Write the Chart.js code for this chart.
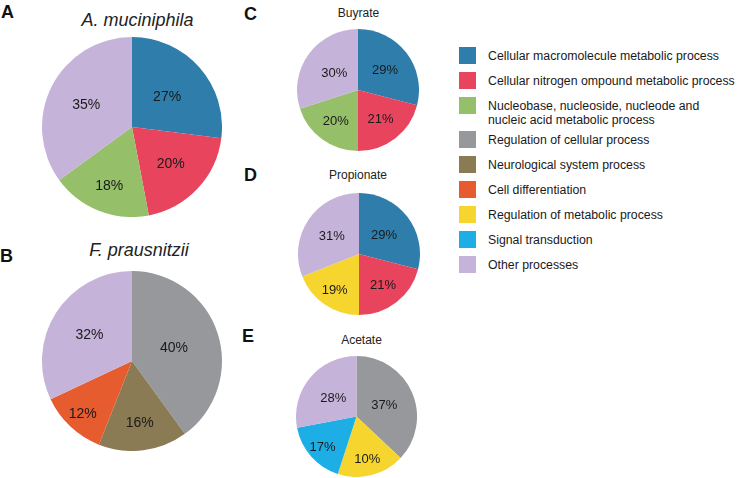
<!DOCTYPE html>
<html lang="en">
<head>
<meta charset="UTF-8">
<title>GO processes pie charts</title>
<script src="https://cdn.jsdelivr.net/npm/chart.js"></script>
<style>
    body { margin: 0; background: #fff; font-family: "Liberation Sans", Arial, sans-serif; color: #1a1a1a; }
    #page { position: relative; width: 737px; height: 478px; overflow: hidden; }
    canvas { position: absolute; }
    .letter { position: absolute; font-size: 18px; line-height: 18px; font-weight: bold; color: #111; }
    .title { position: absolute; text-align: center; white-space: nowrap; color: #222; }
    .big { font-size: 18px; line-height: 18px; font-style: italic; width: 200px; }
    .small { font-size: 12px; line-height: 12px; width: 120px; }
    #legend { position: absolute; left: 459px; top: 46.5px; }
    .item { position: relative; height: 25px; }
    .item.two { height: 34px; }
    .swatch { position: absolute; left: 0; top: 0; width: 17px; height: 17px; }
    .text { position: absolute; left: 29px; top: 2px; font-size: 12.3px; line-height: 14px; white-space: pre; color: #1a1a1a; }
</style>
</head>
<body>
<div id="page">
    <div class="letter" style="left:1px; top:2.8px">A</div>
    <div class="letter" style="left:0px; top:246.5px">B</div>
    <div class="letter" style="left:244px; top:4.5px">C</div>
    <div class="letter" style="left:244px; top:165.5px">D</div>
    <div class="letter" style="left:242px; top:326.5px">E</div>

    <div class="title big" style="left:37.5px; top:10.8px">A. muciniphila</div>
    <div class="title big" style="left:39px; top:240.8px">F. prausnitzii</div>
    <div class="title small" style="left:298.5px; top:7.2px">Buyrate</div>
    <div class="title small" style="left:298px; top:168.8px">Propionate</div>
    <div class="title small" style="left:301.5px; top:333.8px">Acetate</div>

    <canvas id="pieA" width="180" height="180" style="left:42px; top:37px"></canvas>
    <canvas id="pieB" width="180" height="180" style="left:42px; top:271px"></canvas>
    <canvas id="pieC" width="122" height="122" style="left:297px; top:29px"></canvas>
    <canvas id="pieD" width="122" height="122" style="left:298px; top:193px"></canvas>
    <canvas id="pieE" width="121" height="121" style="left:296px; top:356px"></canvas>

    <div id="legend"></div>
</div>

<script>
    // legend categories
    const processNames = [
        'Cellular macromolecule metabolic process',
        'Cellular nitrogen ompound metabolic process',
        'Nucleobase, nucleoside, nucleode and\nnucleic acid metabolic process',
        'Regulation of cellular process',
        'Neurological system process',
        'Cell differentiation',
        'Regulation of metabolic process',
        'Signal transduction',
        'Other processes'
    ];
    const processColors = ['#2e7dab', '#e8445e', '#95bf69', '#96989b', '#8b7b55', '#e65c2f', '#f7d52f', '#1daee6', '#c6b3d9'];

    // A. muciniphila
    const muciniphilaGroups = [0, 1, 2, 8];
    const muciniphilaValues = [27, 20, 18, 35];
    const muciniphilaText = ['27%', '20%', '18%', '35%'];

    // F. prausnitzii
    const prausnitziiGroups = [3, 4, 5, 8];
    const prausnitziiValues = [40, 16, 12, 32];
    const prausnitziiText = ['40%', '16%', '12%', '32%'];

    // Buyrate
    const buyrateGroups = [0, 1, 2, 8];
    const buyrateValues = [29, 21, 20, 30];
    const buyrateText = ['29%', '21%', '20%', '30%'];

    // Propionate
    const propionateGroups = [0, 1, 6, 8];
    const propionateValues = [29, 21, 19, 31];
    const propionateText = ['29%', '21%', '19%', '31%'];

    // Acetate (slice sizes as drawn, label text as printed)
    const acetateGroups = [3, 6, 7, 8];
    const acetateValues = [37, 18, 17, 28];
    const acetateText = ['37%', '10%', '17%', '28%'];

    // legend
    const legendBox = document.getElementById('legend');
    processNames.forEach((name, i) => {
        const item = document.createElement('div');
        item.className = name.includes('\n') ? 'item two' : 'item';
        item.innerHTML = '<div class="swatch" style="background:' + processColors[i] + '"></div>' +
                         '<div class="text"></div>';
        item.querySelector('.text').textContent = name;
        legendBox.appendChild(item);
    });

    // percent text inside slices
    const sliceText = {
        id: 'sliceText',
        afterDatasetsDraw(chart, args, opts) {
            const ctx = chart.ctx;
            const arcs = chart.getDatasetMeta(0).data;
            ctx.save();
            ctx.font = opts.size + 'px "Liberation Sans", Arial, sans-serif';
            ctx.fillStyle = '#1a1a1a';
            ctx.textAlign = 'center';
            ctx.textBaseline = 'middle';
            arcs.forEach((arc, i) => {
                const p = arc.getProps(['x', 'y', 'startAngle', 'endAngle', 'outerRadius'], true);
                const mid = (p.startAngle + p.endAngle) / 2;
                const d = p.outerRadius * opts.pos[i];
                ctx.fillText(opts.text[i], p.x + Math.cos(mid) * d, p.y + Math.sin(mid) * d + 1);
            });
            ctx.restore();
        }
    };

    function makePie(id, groups, values, text, size, pos) {
        new Chart(document.getElementById(id), {
            type: 'pie',
            data: {
                labels: groups.map(g => processNames[g]),
                datasets: [{
                    data: values,
                    backgroundColor: groups.map(g => processColors[g]),
                    borderWidth: 0,
                    hoverBorderWidth: 0,
                    hoverOffset: 0
                }]
            },
            options: {
                responsive: false,
                devicePixelRatio: 1,
                animation: false,
                layout: { padding: 0 },
                events: [],
                plugins: {
                    legend: { display: false },
                    tooltip: { enabled: false },
                    sliceText: { text: text, size: size, pos: pos }
                }
            },
            plugins: [sliceText]
        });
    }

    makePie('pieA', muciniphilaGroups, muciniphilaValues, muciniphilaText, 14, [0.52, 0.59, 0.69, 0.57]);
    makePie('pieB', prausnitziiGroups, prausnitziiValues, prausnitziiText, 14, [0.49, 0.68, 0.8, 0.56]);
    makePie('pieC', buyrateGroups, buyrateValues, buyrateText, 13, [0.56, 0.6, 0.62, 0.48]);
    makePie('pieD', propionateGroups, propionateValues, propionateText, 13, [0.52, 0.64, 0.71, 0.54]);
    makePie('pieE', acetateGroups, acetateValues, acetateText, 13, [0.5, 0.71, 0.75, 0.5]);
</script>
</body>
</html>
